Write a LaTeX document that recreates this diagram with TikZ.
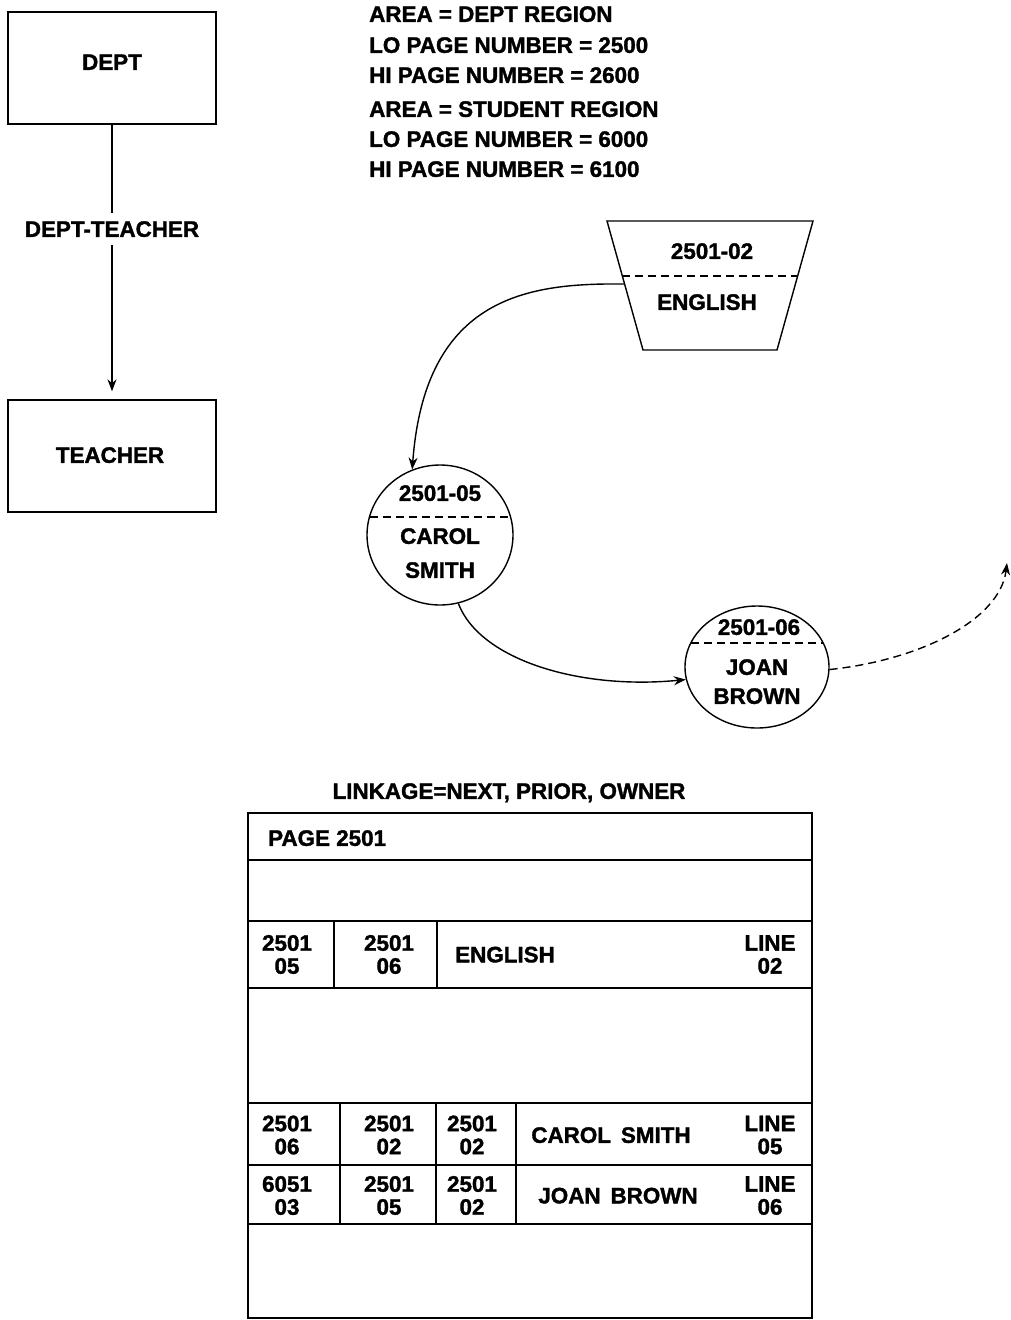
\documentclass[tikz,border=0pt]{standalone}
\usepackage{fontspec}
\setmainfont{Liberation Sans}[BoldFeatures={FakeBold=1.5}]
\usetikzlibrary{arrows.meta,shapes.geometric}
\begin{document}
\begin{tikzpicture}[x=1pt,y=-1pt,
  every node/.style={font=\fontsize{22.4}{23}\selectfont\bfseries, inner sep=0pt},
  box/.style={draw, line width=1.4pt, minimum width=208pt, minimum height=112pt},
  txt/.style={text height=15.7pt, text depth=0pt},
  two/.style={align=center},
  rec/.style={draw, line width=1.4pt, ellipse},
  ln/.style={line width=1.4pt},
  dsh/.style={line width=1.4pt, dash pattern=on 8pt off 5pt},
  tip/.style={-{Stealth[length=12pt,width=9pt]}}
]
\fill[white] (0,0) rectangle (1011,1320);
\useasboundingbox (0,0) rectangle (1011,1320);

% ---- left schema ----
\node[box] (dept) at (112,68) {};
\node[txt] (deptl) at (112,62) {DEPT};
\node[box] (teacher) at (112,456) {};
\node[txt] (teacherl) at (110,455) {TEACHER};
\node[txt, inner ysep=8pt] (dt) at (112,229) {DEPT-TEACHER};
\draw[ln] (dept.south) -- (dt.north);
\draw[ln, tip, shorten >=8pt] (dt.south) -- (teacher.north);

% ---- area text ----
\node[txt, anchor=west] (t1) at (369,14) {AREA = DEPT REGION};
\node[txt, anchor=west] (t2) at (369,45) {LO PAGE NUMBER = 2500};
\node[txt, anchor=west] (t3) at (369,75) {HI PAGE NUMBER = 2600};
\node[txt, anchor=west] (t4) at (369,109) {AREA = STUDENT REGION};
\node[txt, anchor=west] (t5) at (369,139) {LO PAGE NUMBER = 6000};
\node[txt, anchor=west] (t6) at (369,169) {HI PAGE NUMBER = 6100};

% ---- ENGLISH owner record (trapezoid) ----
\coordinate (etl) at (607,221);
\coordinate (etr) at (813,221);
\coordinate (ebr) at (777,350);
\coordinate (ebl) at (643,350);
\draw[ln] (etl) -- (etr) -- (ebr) -- (ebl) -- cycle;
\draw[dsh] (622.3,276) -- (797.7,276);
\node[txt] (eid) at (712,251) {2501-02};
\node[txt] (ename) at (707,302) {ENGLISH};
\coordinate (eout) at (624,284);

% ---- CAROL SMITH ----
\node[rec, minimum width=146pt, minimum height=140pt] (carol) at (440,535) {};
\draw[dsh] (369.5,517) -- (510.5,517);
\node[txt] (cid) at (440,493) {2501-05};
\node[txt] (cn1) at (440,536) {CAROL};
\node[txt] (cn2) at (440,570) {SMITH};

% ---- JOAN BROWN ----
\node[rec, minimum width=144pt, minimum height=122pt] (joan) at (757,667) {};
\draw[dsh] (691,643) -- (823,643);
\node[txt] (jid) at (759,627) {2501-06};
\node[txt] (jn1) at (757,667) {JOAN};
\node[txt] (jn2) at (757,696) {BROWN};

% ---- set connectors ----
\draw[ln, tip] (eout) .. controls (530,283) and (425,295) .. (carol.113);
\draw[ln, tip] (carol.-75) .. controls (480,660) and (580,690) .. (joan.190);
\coordinate (nextend) at (1007,563);
\draw[dsh, tip] (joan.-2) .. controls (920,660) and (1000,620) .. (nextend);

% ---- page layout ----
\node[txt] (link) at (509,791) {LINKAGE=NEXT, PRIOR, OWNER};
\draw[ln] (248,813) rectangle (812,1318);
\foreach \yy in {860,921,988,1103,1165,1224} \draw[ln] (248,\yy) -- (812,\yy);
\draw[ln] (334,921) -- (334,988);
\draw[ln] (437,921) -- (437,988);
\draw[ln] (340,1103) -- (340,1224);
\draw[ln] (436,1103) -- (436,1224);
\draw[ln] (516,1103) -- (516,1224);

\node[txt, anchor=west] (pg) at (268,838) {PAGE 2501};

\node[two] (e1) at (287,954.5) {2501\\05};
\node[two] (e2) at (389,954.5) {2501\\06};
\node[txt] (e3) at (505,954.5) {ENGLISH};
\node[two] (e4) at (770,954.5) {LINE\\02};

\node[two] (c1) at (287,1135) {2501\\06};
\node[two] (c2) at (389,1135) {2501\\02};
\node[two] (c3) at (472,1135) {2501\\02};
\node[txt] (c4) at (611,1135) {CAROL\ \,SMITH};
\node[two] (c5) at (770,1135) {LINE\\05};

\node[two] (j1) at (287,1195.5) {6051\\03};
\node[two] (j2) at (389,1195.5) {2501\\05};
\node[two] (j3) at (472,1195.5) {2501\\02};
\node[txt] (j4) at (618,1195.5) {JOAN\ \,BROWN};
\node[two] (j5) at (770,1195.5) {LINE\\06};
\end{tikzpicture}
\end{document}
